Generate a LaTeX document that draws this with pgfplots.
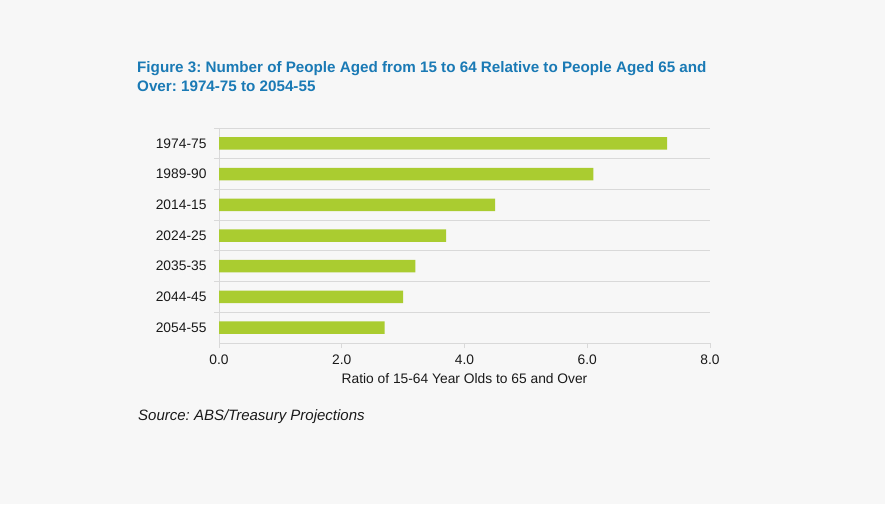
\documentclass[border=0pt]{standalone}
\usepackage{pgfplots}
\pgfplotsset{compat=1.18}
\usepackage{fontspec}
\setmainfont{Liberation Sans}
\frenchspacing
\definecolor{bg}{RGB}{247,247,247}
\definecolor{barg}{RGB}{170,204,48}
\definecolor{ttl}{RGB}{26,122,181}
\definecolor{grd}{RGB}{217,217,217}
\definecolor{txt}{RGB}{26,26,26}
\begin{document}
\begin{tikzpicture}[x=1pt,y=1pt]
\fill[bg] (0,0) rectangle (885,504);
\useasboundingbox (0,0) rectangle (885,504);
\node[anchor=base west, text=ttl, font=\fontsize{15.2}{18}\selectfont\bfseries, inner sep=0] at (137,431.3) {Figure 3: Number of People Aged from 15 to 64 Relative to People Aged 65 and};
\node[anchor=base west, text=ttl, font=\fontsize{15.2}{18}\selectfont\bfseries, inner sep=0] at (137,412.3) {Over: 1974-75 to 2054-55};
\node[anchor=base west, text=txt, font=\fontsize{15}{17}\selectfont\itshape, inner sep=0] at (138,84) {Source: ABS/Treasury Projections};
\begin{axis}[
  at={(219pt,161pt)}, anchor=south west,
  scale only axis, width=491pt, height=215pt,
  xbar, bar width=12.5pt,
  xmin=0, xmax=8, ymin=-0.5, ymax=6.5,
  axis x line*=bottom, axis y line*=left,
  axis line style={grd, line width=0.9pt, -},
  xtick={0,2,4,6,8},
  tick align=outside, major tick length=5pt,
  xtick style={grd, line width=0.9pt},
  ytick={0,...,6},
  yticklabels={2054-55,2044-45,2035-35,2024-25,2014-15,1989-90,1974-75},
  ytick style={draw=none},
  extra y ticks={0.5,1.5,2.5,3.5,4.5,5.5,6.5},
  extra y tick labels={},
  extra y tick style={ymajorgrids=true, major grid style={grd, line width=0.9pt}, ytick style={draw=grd, line width=0.9pt}},
  ticklabel style={font=\fontsize{13.8}{16}\selectfont, text=txt},
  yticklabel style={xshift=-4pt},
  xticklabel style={yshift=-3pt},
  /pgf/number format/.cd, fixed, fixed zerofill, precision=1, assume math mode=true,
  /pgfplots/.cd,
  xlabel={Ratio of 15-64 Year Olds to 65 and Over},
  xlabel style={font=\fontsize{13.8}{16}\selectfont, text=txt, yshift=-2pt},
]
\addplot[fill=barg, draw=none] coordinates {(2.7,0) (3.0,1) (3.2,2) (3.7,3) (4.5,4) (6.1,5) (7.3,6)};
\end{axis}
\end{tikzpicture}
\end{document}
